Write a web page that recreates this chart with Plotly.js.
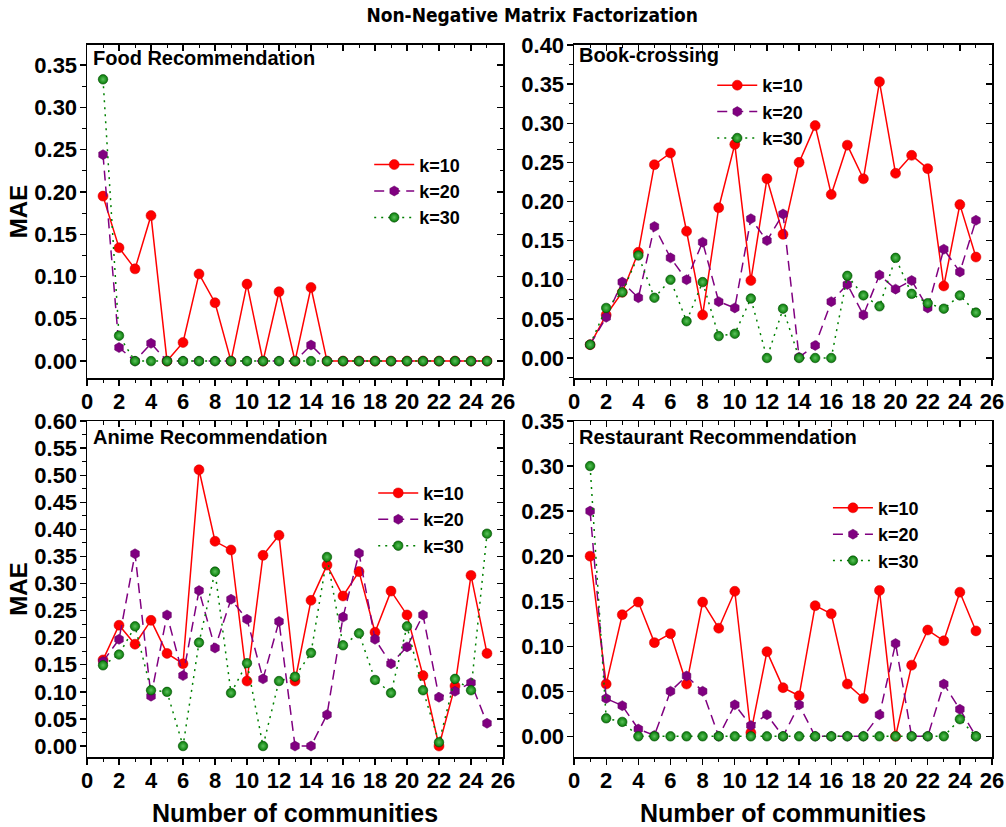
<!DOCTYPE html>
<html>
<head>
<meta charset="utf-8">
<script src="https://cdn.plot.ly/plotly-3.0.1.min.js"></script>
<style>html,body{margin:0;padding:0;background:#fff;}#chart{width:1006px;height:827px;}</style>
</head>
<body>
<div id="chart"></div>
<script>
// ---------- data ----------
const communities = [1,2,3,4,5,6,7,8,9,10,11,12,13,14,15,16,17,18,19,20,21,22,23,24,25];
const seriesNames = ["k=10", "k=20", "k=30"];
const panelTitles = ["Food Recommendation", "Book-crossing", "Anime Recommendation", "Restaurant Recommendation"];
const xTickLabels = ["0","2","4","6","8","10","12","14","16","18","20","22","24","26"];

const food_k10 = [0.195,0.134,0.109,0.172,0,0.022,0.103,0.069,0,0.091,0,0.082,0,0.087,0,0,0,0,0,0,0,0,0,0,0];
const food_k20 = [0.244,0.016,0,0.021,0,0,0,0,0,0,0,0,0,0.019,0,0,0,0,0,0,0,0,0,0,0];
const food_k30 = [0.333,0.030,0,0,0,0,0,0,0,0,0,0,0,0,0,0,0,0,0,0,0,0,0,0,0];

const book_k10 = [0.017,0.055,0.084,0.135,0.247,0.262,0.162,0.055,0.192,0.273,0.099,0.229,0.158,0.250,0.297,0.209,0.272,0.229,0.353,0.236,0.259,0.242,0.092,0.196,0.129];
const book_k20 = [0.017,0.052,0.097,0.077,0.168,0.128,0.100,0.148,0.072,0.064,0.178,0.150,0.184,0.001,0.016,0.072,0.094,0.055,0.106,0.088,0.099,0.064,0.139,0.110,0.176];
const book_k30 = [0.017,0.064,0.084,0.131,0.077,0.100,0.047,0.097,0.028,0.031,0.076,0,0.063,0,0,0,0.105,0.080,0.066,0.128,0.082,0.070,0.063,0.080,0.058];

const anime_k10 = [0.159,0.223,0.188,0.232,0.171,0.152,0.510,0.378,0.362,0.120,0.352,0.389,0.120,0.269,0.334,0.277,0.322,0.210,0.286,0.242,0.130,0,0.111,0.315,0.171];
const anime_k20 = [0.156,0.197,0.355,0.092,0.242,0.130,0.287,0.181,0.271,0.234,0.124,0.230,0,0,0.058,0.238,0.356,0.197,0.152,0.183,0.242,0.090,0.101,0.117,0.042];
const anime_k30 = [0.149,0.169,0.221,0.103,0.100,0,0.191,0.322,0.098,0.153,0,0.120,0.128,0.172,0.349,0.186,0.208,0.122,0.098,0.221,0.103,0.007,0.124,0.103,0.392];

const rest_k10 = [0.200,0.058,0.135,0.149,0.104,0.114,0.058,0.149,0.120,0.161,0.004,0.094,0.054,0.045,0.145,0.136,0.058,0.042,0.162,0,0.079,0.118,0.106,0.160,0.117];
const rest_k20 = [0.250,0.042,0.034,0.008,0.001,0.050,0.067,0.050,0,0.035,0.012,0.024,0,0.035,0,0,0,0,0.024,0.103,0,0,0.058,0.030,0];
const rest_k30 = [0.300,0.020,0.016,0,0,0,0,0,0,0,0,0,0,0,0,0,0,0,0,0,0,0,0,0.019,0];

const panelData = [
  [food_k10, food_k20, food_k30],
  [book_k10, book_k20, book_k30],
  [anime_k10, anime_k20, anime_k30],
  [rest_k10, rest_k20, rest_k30]
];

// ---------- styling ----------
const FONT = "Liberation Sans, Arial, Helvetica, sans-serif";
const yRanges = [[-0.0200, 0.3736], [-0.0256, 0.40], [-0.0203, 0.60], [-0.0230, 0.35]];
const xDomains = [[0.0865, 0.5], [0.5706, 0.9861], [0.0865, 0.5], [0.5706, 0.9861]];
const yDomains = [[0.5429, 0.9456], [0.5429, 0.9456], [0.0846, 0.4909], [0.0846, 0.4909]];
const legendPos = [[0.367, 0.823], [0.708, 0.919], [0.371, 0.426], [0.823, 0.408]];
const titlePos = [[0.0905, 0.930], [0.5735, 0.933], [0.0905, 0.472], [0.5735, 0.472]];

const styles = [
  {line:{color:"#ff0000", width:1.5, dash:"solid"}, marker:{symbol:"circle", size:10, color:"#ff0000", line:{color:"#d00000", width:0.5}}},
  {line:{color:"#800080", width:1.5, dash:"10px,6px"}, marker:{symbol:"hexagon", size:10, color:"#800080", line:{color:"#600060", width:0.5}}},
  {line:{color:"#008000", width:1.5, dash:"2px,5px"}, marker:{symbol:"circle", size:9.5, color:"#067a06", gradient:{type:"radial", color:"#5cc25c"}, line:{color:"#034a03", width:0.6}}}
];

const traces = [];
const layout = {
  width: 1006, height: 827,
  margin: {l:0, r:0, t:0, b:0},
  paper_bgcolor: "#ffffff", plot_bgcolor: "#ffffff",
  font: {family: FONT, color: "#000000"},
  title: {text: "Non-Negative Matrix Factorization", x: 0.529, xanchor: "center", y: 0.981, yanchor: "middle",
          font: {family: "Liberation Sans Narrow, DejaVu Sans Condensed, Liberation Sans, Arial", size: 19, weight: "bold", color: "#000"}},
  annotations: [],
  showlegend: true
};

for (let p = 0; p < 4; p++) {
  const n = p + 1;
  const xs = n === 1 ? "" : String(n);
  const legendName = n === 1 ? "legend" : "legend" + n;
  for (let s = 0; s < 3; s++) {
    traces.push({
      type: "scatter", mode: "lines+markers",
      x: communities, y: panelData[p][s], name: seriesNames[s],
      xaxis: "x" + xs, yaxis: "y" + xs, legend: legendName,
      line: styles[s].line, marker: styles[s].marker, cliponaxis: false
    });
  }
  // empty trace to host mirrored inside ticks (top / right)
  const on = p + 5;
  traces.push({type:"scatter", mode:"markers", x:[], y:[], xaxis:"x"+on, yaxis:"y"+on, showlegend:false, hoverinfo:"skip"});

  const baseX = {
    domain: xDomains[p], range: [0, 26], tickmode: "array",
    tickvals: xTickLabels.map(Number), ticktext: xTickLabels,
    ticks: "outside", ticklen: 6, tickwidth: 1.3, tickcolor: "#000",
    minor: {tickmode: "linear", tick0: 0, dtick: 1, ticks: "outside", ticklen: 3.5, tickwidth: 1, tickcolor: "#000"},
    showline: true, linewidth: 1.5, linecolor: "#000", mirror: true,
    showgrid: false, zeroline: false, fixedrange: true, ticklabelstandoff: -3,
    tickfont: {family: FONT, size: 22, weight: "bold", color: "#000"},
    anchor: "y" + xs
  };
  const baseY = {
    domain: yDomains[p], range: yRanges[p], tick0: 0, dtick: 0.05, tickformat: ".2f",
    ticks: "outside", ticklen: 6, tickwidth: 1.3, tickcolor: "#000",
    minor: {tickmode: "linear", tick0: 0.025, dtick: 0.05, ticks: "outside", ticklen: 3.5, tickwidth: 1, tickcolor: "#000"},
    showline: true, linewidth: 1.5, linecolor: "#000", mirror: true,
    showgrid: false, zeroline: false, fixedrange: true, ticklabelstandoff: -2,
    tickfont: {family: FONT, size: 22, weight: "bold", color: "#000"},
    anchor: "x" + xs
  };
  if (p >= 2) {
    baseX.title = {text: "Number of communities", font: {family: FONT, size: 25, weight: "bold", color: "#000"}, standoff: 18};
  }
  if (p % 2 === 0) {
    baseY.title = {text: "MAE", font: {family: FONT, size: 24, weight: "bold", color: "#000"}, standoff: 0};
  }
  layout["xaxis" + xs] = baseX;
  layout["yaxis" + xs] = baseY;

  // overlay axes: inward ticks on the top and right edges
  layout["xaxis" + on] = {
    domain: xDomains[p], range: [0, 26], overlaying: "x" + xs, anchor: "y" + on, side: "top",
    tickmode: "linear", tick0: 0, dtick: 2, ticks: "inside", ticklen: 6, tickwidth: 1.3, tickcolor: "#000",
    minor: {tickmode: "linear", tick0: 0, dtick: 1, ticks: "inside", ticklen: 3.5, tickwidth: 1, tickcolor: "#000"},
    showticklabels: false, showline: false, showgrid: false, zeroline: false, fixedrange: true
  };
  layout["yaxis" + on] = {
    domain: yDomains[p], range: yRanges[p], overlaying: "y" + xs, anchor: "x" + on, side: "right",
    tickmode: "linear", tick0: 0, dtick: 0.05, ticks: "inside", ticklen: 6, tickwidth: 1.3, tickcolor: "#000",
    minor: {tickmode: "linear", tick0: 0.025, dtick: 0.05, ticks: "inside", ticklen: 3.5, tickwidth: 1, tickcolor: "#000"},
    showticklabels: false, showline: false, showgrid: false, zeroline: false, fixedrange: true
  };

  layout[legendName] = {
    x: legendPos[p][0], y: legendPos[p][1], xanchor: "left", yanchor: "top",
    xref: "paper", yref: "paper",
    bgcolor: "rgba(0,0,0,0)", borderwidth: 0, itemwidth: 40,
    font: {family: FONT, size: 18, weight: "bold", color: "#000"},
    tracegroupgap: 0
  };

  layout.annotations.push({
    text: panelTitles[p], xref: "paper", yref: "paper", x: titlePos[p][0], y: titlePos[p][1],
    xanchor: "left", yanchor: "middle", showarrow: false,
    font: {family: FONT, size: 20, weight: "bold", color: "#000"}
  });
}

Plotly.newPlot("chart", traces, layout, {displayModeBar: false, staticPlot: true});
</script>
</body>
</html>
